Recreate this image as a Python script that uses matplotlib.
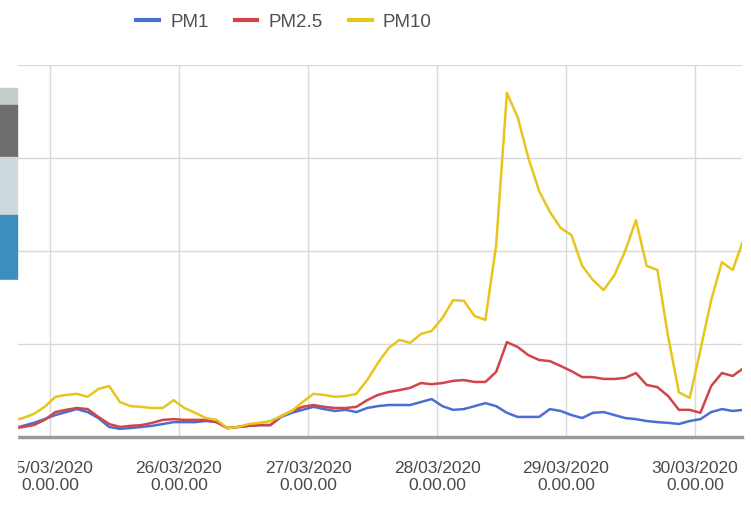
import matplotlib.pyplot as plt
import matplotlib.dates as mdates
from matplotlib.patches import Rectangle
import pandas as pd

# readings every 2 hours, starting 24/03/2020 17:00
start = '2020-03-24 17:00'
step = '2h'

pm1 = [2.2, 3.0, 3.8, 4.8, 5.9, 6.7, 7.5, 6.7, 5.1, 2.7, 2.2, 2.4, 2.7, 3.0, 3.5, 4.0,
       4.0, 4.0, 4.3, 4.0, 2.4, 2.7, 3.0, 3.2, 3.2, 5.4, 6.5, 7.3, 8.1, 7.5, 7.0, 7.3,
       6.7, 7.8, 8.3, 8.6, 8.6, 8.6, 9.4, 10.2, 8.3, 7.3, 7.5, 8.3, 9.1, 8.3, 6.5, 5.4,
       5.4, 5.4, 7.5, 7.0, 5.9, 5.1, 6.5, 6.7, 5.9, 5.1, 4.8, 4.3, 4.0, 3.8, 3.5, 4.3,
       4.8, 6.7, 7.5, 7.0, 7.3]
pm25 = [2.2, 2.7, 3.2, 4.6, 6.7, 7.3, 7.8, 7.5, 5.4, 3.5, 2.7, 3.0, 3.2, 3.8, 4.6, 4.8,
        4.6, 4.6, 4.6, 4.0, 2.4, 2.7, 3.0, 3.2, 3.2, 5.6, 7.0, 8.1, 8.6, 8.1, 7.8, 7.8,
        8.1, 9.9, 11.3, 12.1, 12.6, 13.2, 14.5, 14.2, 14.5, 15.1, 15.3, 14.8, 14.8, 17.5,
        25.5, 24.2, 22.0, 20.7, 20.4, 19.1, 17.7, 16.1, 16.1, 15.6, 15.6, 15.9, 17.2, 14.0,
        13.4, 11.0, 7.3, 7.3, 6.5, 13.7, 17.2, 16.4, 18.5]
pm10 = [4.3, 5.1, 6.2, 8.1, 10.8, 11.3, 11.6, 10.8, 12.9, 13.7, 9.4, 8.3, 8.1, 7.8, 7.8,
        9.9, 7.8, 6.5, 5.1, 4.6, 2.4, 2.7, 3.5, 3.8, 4.3, 5.6, 7.0, 9.4, 11.6, 11.3, 10.8,
        11.0, 11.6, 15.3, 19.9, 23.9, 26.1, 25.3, 27.7, 28.5, 32.0, 36.8, 36.6, 32.5, 31.5,
        51.6, 92.5, 86.0, 75.0, 66.1, 60.5, 56.2, 54.3, 46.0, 42.2, 39.5, 43.5, 50.0, 58.3,
        46.0, 44.9, 26.9, 12.0, 10.5, 23.4, 36.8, 47.0, 44.9, 53.0]

series = ['PM1', 'PM2.5', 'PM10']
colors = ['#4a6fd0', '#d0454a', '#e8c51c']

times = pd.date_range(start, periods=len(pm10), freq=step)

plt.rcParams['font.family'] = ['Liberation Sans', 'DejaVu Sans']

fig = plt.figure(figsize=(7.51, 5.05), dpi=100)
ax = fig.add_axes([17 / 751, 68 / 505, 725 / 751, 372 / 505])

for name, vals, c in zip(series, [pm1, pm25, pm10], colors):
    ax.plot(times, vals, color=c, lw=1.8, label=name, zorder=3)

ax.set_xlim(pd.Timestamp('2020-03-24 17:52'), pd.Timestamp('2020-03-30 08:44'))
ax.set_ylim(0, 100)
ax.set_yticks([0, 25, 50, 75, 100])
ax.set_yticklabels([])
ax.tick_params(axis='y', length=0)

ax.xaxis.set_major_locator(mdates.DayLocator())
ax.xaxis.set_major_formatter(mdates.DateFormatter('%d/%m/%Y\n0.00.00'))
ax.tick_params(axis='x', length=0, labelsize=12.5, labelcolor='#4a4a4a', pad=17)

ax.grid(True, color='#d8d8d8', lw=1)
for s in ['top', 'right', 'left']:
    ax.spines[s].set_visible(False)
ax.spines['bottom'].set_color('#9a9a9a')
ax.spines['bottom'].set_linewidth(2.5)

leg = ax.legend(ncol=3, loc='center', bbox_to_anchor=(284 / 751, 1 - 22 / 505),
                bbox_transform=fig.transFigure, frameon=False, fontsize=13.5,
                handlelength=1.2, handletextpad=0.6, columnspacing=1.4)
for h in leg.legend_handles:
    h.set_linewidth(3)
for t in leg.get_texts():
    t.set_color('#505050')

# bits of the neighbouring page visible at the left edge of the screenshot
strip = [(0, 88, 'white'), (88, 105, '#c5cccc'), (105, 157, '#6e6e6e'),
         (157, 215, '#cdd9dc'), (215, 280, '#3a8fc0'), (280, 505, 'white')]
for y0, y1, c in strip:
    fig.patches.append(Rectangle((0, 1 - y1 / 505), 17 / 751, (y1 - y0) / 505,
                                 transform=fig.transFigure, color=c, zorder=10))

fig.savefig('out.png', dpi=100)
